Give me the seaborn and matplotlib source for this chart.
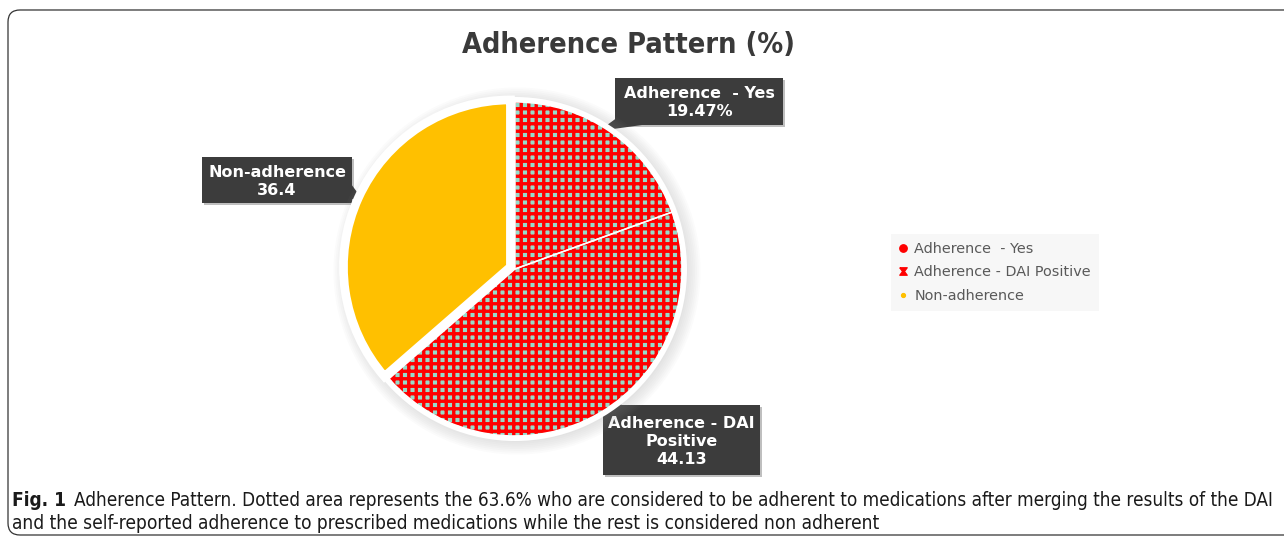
import numpy as np
import matplotlib
matplotlib.use("Agg")
import matplotlib.pyplot as plt
import seaborn as sns
from matplotlib.patches import FancyBboxPatch, Polygon, Circle, Rectangle
from matplotlib.lines import Line2D
from matplotlib.path import Path

# ---------------- data ----------------
categories = ["Adherence  - Yes", "Adherence - DAI Positive", "Non-adherence"]
values = [19.47, 44.13, 36.4]
callout_texts = ["Adherence  - Yes\n19.47%", "Adherence - DAI\nPositive\n44.13", "Non-adherence\n36.4"]
title_text = "Adherence Pattern (%)"
caption_bold = "Fig. 1"
caption_line1 = ("Adherence Pattern. Dotted area represents the 63.6% who are considered to be adherent "
                 "to medications after merging the results of the DAI")
caption_line2 = ("and the self-reported adherence to prescribed medications while the rest is considered "
                 "non adherent")

# ---------------- style ----------------
sns.set_theme(style="white")
plt.rcParams['font.family'] = ['Lato', 'DejaVu Sans']
plt.rcParams['hatch.linewidth'] = 2.7

RED = "#ff0000"
DOT = "#95dccb"
GOLD = "#ffc000"
BOX = "#3c3c3c"

W, H, DPI = 1284, 543, 90
fig = plt.figure(figsize=(W / DPI + 1e-4, H / DPI + 1e-4), dpi=DPI)
fig.patch.set_facecolor("white")

bg = fig.add_axes([0, 0, 1, 1])
bg.set_xlim(0, W)
bg.set_ylim(H, 0)
bg.axis("off")

# outer frame with rounded corner
bg.add_patch(FancyBboxPatch((8, 10), W + 40, 525, boxstyle="round,pad=0,rounding_size=12",
                            fc="white", ec="#333333", lw=1.0))

renderer = fig.canvas.get_renderer()


def fit_text(ax, x, y, s, target_w, size0, **kw):
    t = ax.text(x, y, s, fontsize=size0, **kw)
    w = t.get_window_extent(renderer).width
    t.set_fontsize(size0 * target_w / w)
    return t

# title
fit_text(bg, 628, 45, title_text, 333, 18, ha="center", va="center",
         color="#3a3a3a", fontweight="bold", fontstretch="condensed",
         family=["DejaVu Sans"])

# ---------------- pie ----------------
cx, cy, R = 515, 269, 167
half = 205
pax = fig.add_axes([(cx - half) / W, (H - cy - half) / H, 2 * half / W, 2 * half / H])

# soft shadow + white rim
for i in range(10):
    pax.add_patch(Circle((0.012, -0.012), 1.0 + 0.011 * i, color="#9a9a9a", alpha=0.035, lw=0))
pax.add_patch(Circle((0, 0), 1.03, color="white", lw=0))

explode = [0, 0, 0.03]
wedges, _ = pax.pie(values, startangle=90, counterclock=False, explode=explode,
                    colors=[DOT, DOT, GOLD], wedgeprops=dict(linewidth=0))
for w in wedges[:2]:
    w.set_hatch("++")
    w.set_edgecolor(RED)
    w.set_linewidth(0)

edges, _ = pax.pie(values, startangle=90, counterclock=False, explode=explode,
                   wedgeprops=dict(fill=False, edgecolor="white", linewidth=1.2))
edges[2].set_linewidth(7)
pax.set_xlim(-half / R, half / R)
pax.set_ylim(-half / R, half / R)
pax.axis("off")

# ---------------- callouts ----------------
boxes = [
    dict(rect=(615, 78, 168, 47), tail=[(618, 117), (642, 125), (599, 131)]),
    dict(rect=(603, 405, 157, 70), tail=[(604, 412), (622, 405), (597, 396)]),
    dict(rect=(202, 157, 150, 46), tail=[(351, 184), (351, 199), (363, 200)]),
]
lab_size = None
for b, txt in zip(boxes, callout_texts):
    x0, y0, bw, bh = b["rect"]
    bg.add_patch(Rectangle((x0 + 2, y0 + 2), bw, bh, fc="#000000", alpha=0.25, lw=0, zorder=3))
    bg.add_patch(Rectangle((x0, y0), bw, bh, fc=BOX, lw=0, zorder=4))
    bg.add_patch(Polygon(b["tail"], closed=True, fc=BOX, lw=0, zorder=4))
    kw = dict(ha="center", va="center", color="white", fontweight="bold", zorder=5,
              linespacing=1.25, family=["DejaVu Sans"])
    if lab_size is None:
        t = fit_text(bg, x0 + bw / 2, y0 + bh / 2 + 1, txt, 150, 11, **kw)
        lab_size = t.get_fontsize()
    else:
        bg.text(x0 + bw / 2, y0 + bh / 2 + 1, txt, fontsize=lab_size, **kw)

# ---------------- legend ----------------
hourglass = Path([(-1, 1), (1, 1), (0.25, 0), (1, -1), (-1, -1), (-0.25, 0), (-1, 1)])
handles = [
    Line2D([], [], ls="none", marker="o", markersize=6, color=RED),
    Line2D([], [], ls="none", marker=hourglass, markersize=6, color=RED),
    Line2D([], [], ls="none", marker="o", markersize=3.2, color=GOLD),
]
leg = fig.legend(handles, categories, loc="upper left",
                 bbox_to_anchor=(884 / W, 1 - 227 / H), frameon=True,
                 prop=dict(family="DejaVu Sans", size=11.5),
                 labelcolor="#595959", handlelength=0.6, handletextpad=0.45,
                 labelspacing=0.65, borderpad=0.55, fancybox=False)
leg.get_frame().set_facecolor("#f6f6f6")
leg.get_frame().set_edgecolor("none")

# ---------------- caption ----------------
cap_kw = dict(family=["DejaVu Sans"], fontstretch="condensed")
full1 = caption_bold + "  " + caption_line1
probe = bg.text(0, 0, full1, fontsize=12, **cap_kw)
cap_size = 12 * (1278 - 12) / probe.get_window_extent(renderer).width
probe.remove()
tb = bg.text(12, 500, caption_bold, fontsize=cap_size, fontweight="bold", ha="left", va="center",
             color="#1a1a1a", **cap_kw)
bw_ = tb.get_window_extent(renderer).width
fit_text(bg, 12 + bw_ + 8, 500, caption_line1, 1278 - (12 + bw_ + 8), cap_size, ha="left",
         va="center", color="#1a1a1a", **cap_kw)
bg.text(12, 523, caption_line2, fontsize=cap_size, ha="left", va="center",
        color="#1a1a1a", **cap_kw)

fig.savefig("out.png", dpi=DPI)
